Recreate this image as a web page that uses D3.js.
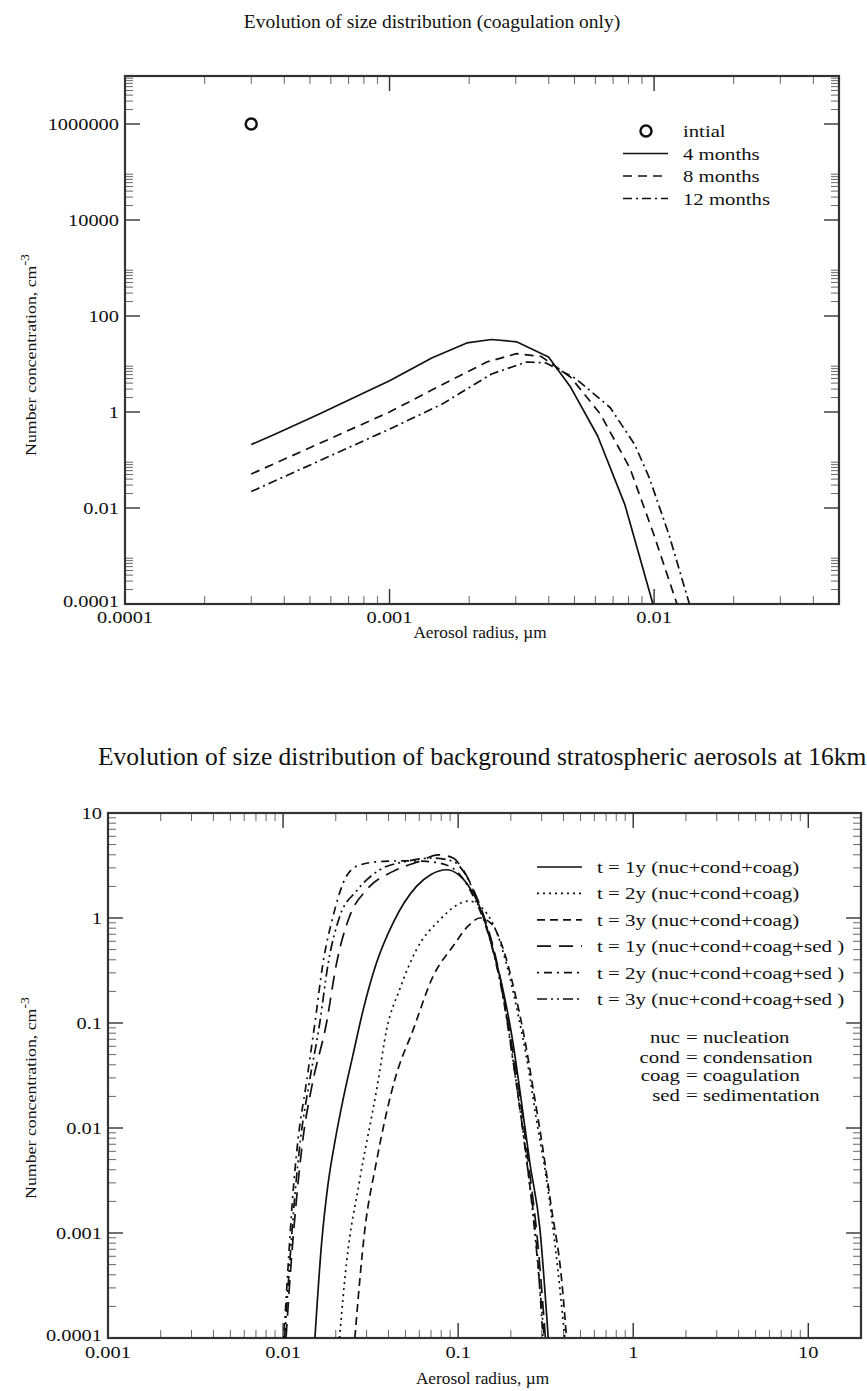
<!DOCTYPE html>
<html>
<meta charset="utf-8">
<head>
<style>
body { margin: 0; background: #fff; }
text { font-family: "Liberation Serif", "Times New Roman", serif; fill: #111; }
.frame { fill: none; stroke: #333; stroke-width: 2.2px; }
.tick-major { stroke: #333; stroke-width: 1.4px; }
.tick-minor { stroke: #666; stroke-width: 1px; }
.curve { fill: none; stroke: #111; stroke-width: 1.7px; stroke-linejoin: round; }
</style>
</head>
<body>
<div id="viz"></div>
<script src="https://d3js.org/d3.v7.min.js"></script>
<script>
// ---------- panel 1 : coagulation only ----------
const title_top = "Evolution of size distribution (coagulation only)";
const top_x_ticks = [0.0001, 0.001, 0.01];
const top_x_labels = ["0.0001", "0.001", "0.01"];
const top_y_ticks = [0.0001, 0.01, 1, 100, 10000, 1000000];
const top_y_labels = ["0.0001", "0.01", "1", "100", "10000", "1000000"];
const top_series_names = ["intial", "4 months", "8 months", "12 months"];

const initial = [[0.0003, 1000000]];
const months4 = [[0.0003, 0.21], [0.000367, 0.34], [0.00054, 0.9], [0.001, 4.5], [0.00145, 13.5],
    [0.00196, 27.5], [0.00243, 32.4], [0.00302, 29], [0.00399, 14], [0.00484, 3.27],
    [0.00612, 0.316], [0.00776, 0.0116], [0.0099, 0.0001]];
const months8 = [[0.0003, 0.051], [0.001, 1.0], [0.00158, 3.7], [0.00233, 11], [0.00302, 16.4],
    [0.00374, 14.4], [0.00484, 5.3], [0.00627, 0.9], [0.0081, 0.068], [0.01, 0.0027], [0.0122, 0.0001]];
const months12 = [[0.0003, 0.022], [0.001, 0.44], [0.00158, 1.46], [0.00243, 6.2], [0.00329, 11],
    [0.0039, 10.5], [0.00505, 5.0], [0.00682, 1.24], [0.00845, 0.21], [0.0096, 0.042],
    [0.0114, 0.0027], [0.0136, 0.0001]];

// ---------- panel 2 : background stratospheric aerosols ----------
const title_bottom = "Evolution of size distribution of background stratospheric aerosols at 16km";
const bot_x_ticks = [0.001, 0.01, 0.1, 1, 10];
const bot_x_labels = ["0.001", "0.01", "0.1", "1", "10"];
const bot_y_ticks = [0.0001, 0.001, 0.01, 0.1, 1, 10];
const bot_y_labels = ["0.0001", "0.001", "0.01", "0.1", "1", "10"];
const bot_series_names = ["t = 1y (nuc+cond+coag)", "t = 2y (nuc+cond+coag)", "t = 3y (nuc+cond+coag)",
    "t = 1y (nuc+cond+coag+sed )", "t = 2y (nuc+cond+coag+sed )", "t = 3y (nuc+cond+coag+sed )"];
const abbrev_keys = ["nuc", "cond", "coag", "sed"];
const abbrev_vals = ["nucleation", "condensation", "coagulation", "sedimentation"];

const t1y_coag = [[0.0152, 0.0001], [0.0166, 0.0008], [0.018, 0.0028], [0.0198, 0.0075], [0.0222, 0.02],
    [0.0251, 0.05], [0.0287, 0.134], [0.0341, 0.37], [0.0425, 0.9], [0.0578, 2.0], [0.07, 2.6], [0.0858, 2.88],
    [0.1, 2.6], [0.1117, 2.15], [0.139, 1.04], [0.158, 0.5], [0.18, 0.21], [0.206, 0.064],
    [0.225, 0.023], [0.257, 0.0046], [0.293, 0.0011], [0.327, 0.0001]];
const t2y_coag = [[0.021, 0.0001], [0.023, 0.00051], [0.0274, 0.0032], [0.0345, 0.025], [0.039, 0.086],
    [0.0464, 0.21], [0.0578, 0.5], [0.0785, 0.96], [0.1, 1.35], [0.115, 1.45], [0.14, 1.2],
    [0.165, 0.75], [0.19, 0.35], [0.22, 0.12], [0.25, 0.04], [0.28, 0.012], [0.32, 0.0032],
    [0.36, 0.0007], [0.407, 0.0001]];
const t3y_coag = [[0.0257, 0.0001], [0.0293, 0.00107], [0.034, 0.0046], [0.0435, 0.029], [0.0553, 0.086],
    [0.072, 0.28], [0.0936, 0.54], [0.115, 0.85], [0.133, 1.0], [0.155, 0.88], [0.18, 0.52],
    [0.21, 0.2], [0.24, 0.07], [0.27, 0.022], [0.3, 0.0075], [0.34, 0.0018], [0.39, 0.00036],
    [0.416, 0.0001]];
const t1y_sed = [[0.0104, 0.0001], [0.0111, 0.0005], [0.0119, 0.002], [0.013, 0.008], [0.0146, 0.025],
    [0.0177, 0.1], [0.0202, 0.37], [0.024, 1.04], [0.03, 1.86], [0.0425, 2.78], [0.06, 3.46],
    [0.0769, 4.0], [0.0936, 3.73], [0.105, 3.0], [0.12, 2.0], [0.14, 1.05], [0.16, 0.5],
    [0.18, 0.2], [0.2, 0.07], [0.225, 0.02], [0.255, 0.004], [0.285, 0.0008], [0.315, 0.0001]];
const t2y_sed = [[0.0101, 0.0001], [0.0107, 0.0005], [0.0113, 0.002], [0.0122, 0.008], [0.0135, 0.025],
    [0.0152, 0.1], [0.0169, 0.37], [0.0193, 1.04], [0.023, 2.5], [0.0274, 3.2], [0.0373, 3.46],
    [0.0507, 3.5], [0.066, 3.46], [0.0857, 3.2], [0.1, 2.7], [0.12, 1.7], [0.14, 0.95],
    [0.16, 0.45], [0.18, 0.18], [0.2, 0.06], [0.22, 0.02], [0.25, 0.004], [0.28, 0.0008], [0.305, 0.0001]];
const t3y_sed = [[0.0102, 0.0001], [0.0109, 0.0005], [0.0116, 0.002], [0.0126, 0.008], [0.014, 0.025],
    [0.0162, 0.1], [0.0181, 0.37], [0.0211, 1.04], [0.0262, 1.8], [0.0357, 2.88], [0.0507, 3.46],
    [0.072, 3.73], [0.0936, 3.46], [0.11, 2.6], [0.13, 1.4], [0.15, 0.7], [0.17, 0.3],
    [0.19, 0.11], [0.21, 0.035], [0.24, 0.007], [0.27, 0.0013], [0.31, 0.0001]];

const width = 867;
const height = 1391;

const svg = d3.select("#viz")
    .append("svg")
    .attr("width", width)
    .attr("height", height);

// the reference font is wide, so text gets stretched horizontally
function place(x, y, sx) {
    return "translate(" + x + "," + y + ") scale(" + sx + ",1)";
}

function stext(parent, x, y, str, size, sx, anchor) {
    return parent.append("text")
        .attr("transform", place(x, y, sx))
        .attr("text-anchor", anchor || "start")
        .style("font-size", size + "px")
        .text(str);
}

// minor ticks at 2..9 times every major tick
function minors(majors, domain) {
    let out = [];
    majors.forEach(m => {
        for (let k = 2; k <= 9; k++) {
            let v = m * k;
            if (v > domain[0] && v < domain[1]) out.push(v);
        }
    });
    return out;
}

function panel(p) {
    const x = d3.scaleLog().domain(p.xDomain).range([p.left, p.right]);
    const y = d3.scaleLog().domain(p.yDomain).range([p.bottom, p.top]);
    const g = svg.append("g");

    const clipId = "clip" + p.id;
    g.append("clipPath").attr("id", clipId)
        .append("rect")
        .attr("x", p.left).attr("y", p.top)
        .attr("width", p.right - p.left).attr("height", p.bottom - p.top);

    // x ticks, bottom and top edge, pointing inward
    const xMinor = minors(p.xTicks, p.xDomain);
    [[p.bottom, -1], [p.top, 1]].forEach(([yy, dir]) => {
        g.selectAll(null).data(p.xTicks).enter().append("line")
            .attr("class", "tick-major")
            .attr("x1", d => x(d)).attr("x2", d => x(d))
            .attr("y1", yy).attr("y2", yy + dir * 15);
        g.selectAll(null).data(xMinor).enter().append("line")
            .attr("class", "tick-minor")
            .attr("x1", d => x(d)).attr("x2", d => x(d))
            .attr("y1", yy).attr("y2", yy + dir * 8);
    });
    const yMinor = minors(p.yTicks, p.yDomain);
    [[p.left, 1], [p.right, -1]].forEach(([xx, dir]) => {
        g.selectAll(null).data(p.yTicks).enter().append("line")
            .attr("class", "tick-major")
            .attr("y1", d => y(d)).attr("y2", d => y(d))
            .attr("x1", xx).attr("x2", xx + dir * 15);
        g.selectAll(null).data(yMinor).enter().append("line")
            .attr("class", "tick-minor")
            .attr("y1", d => y(d)).attr("y2", d => y(d))
            .attr("x1", xx).attr("x2", xx + dir * 8);
    });

    g.append("rect").attr("class", "frame")
        .attr("x", p.left).attr("y", p.top)
        .attr("width", p.right - p.left).attr("height", p.bottom - p.top);

    // tick labels (lowest y label lifted a little so it clears the x label)
    g.selectAll(null).data(p.xTicks).enter().append("text")
        .attr("transform", d => place(x(d), p.bottom + p.xLabelDy, 1.2))
        .attr("text-anchor", "middle")
        .style("font-size", "17px")
        .text((d, i) => p.xLabels[i]);
    g.selectAll(null).data(p.yTicks).enter().append("text")
        .attr("transform", (d, i) => place(p.left - 6, y(d) + (i === 0 ? 3 : 6), 1.2))
        .attr("text-anchor", "end")
        .style("font-size", "17px")
        .text((d, i) => p.yLabels[i]);

    // axis titles
    stext(g, (p.left + p.right) / 2 - 2, p.bottom + p.xTitleDy, "Aerosol radius, µm", 16, 1.08, "middle");
    const yt = g.append("text")
        .attr("transform", "translate(36," + p.yTitleMid + ") rotate(-90) scale(1.15,1)")
        .attr("text-anchor", "middle")
        .style("font-size", "15.5px");
    yt.append("tspan").text("Number concentration, cm");
    yt.append("tspan").attr("dy", -7).style("font-size", "12px").text("-3");

    // title
    stext(g, p.titleX, p.titleY, p.title, p.titleSize, 1, p.titleAnchor);

    const line = d3.line()
        .x(d => x(d[0]))
        .y(d => y(d[1]))
        .curve(p.curve);

    p.series.forEach(s => {
        g.append("path")
            .datum(s.data)
            .attr("class", "curve")
            .attr("clip-path", "url(#" + clipId + ")")
            .attr("stroke-dasharray", s.dash)
            .attr("d", line);
    });

    return { x: x, y: y, g: g };
}

// ---------- top panel ----------
const topPanel = panel({
    id: "top",
    left: 125, right: 839, top: 76, bottom: 604,
    xDomain: [0.0001, 0.05], yDomain: [0.0001, 10000000],
    xTicks: top_x_ticks, xLabels: top_x_labels,
    yTicks: top_y_ticks, yLabels: top_y_labels,
    xLabelDy: 19, xTitleDy: 34,
    yTitleMid: 355,
    title: title_top, titleX: 432, titleY: 28, titleAnchor: "middle", titleSize: 19.5,
    curve: d3.curveLinear,
    series: [
        { data: months4, dash: null },
        { data: months8, dash: "9,6" },
        { data: months12, dash: "9,4,2,4" }
    ]
});

topPanel.g.selectAll(null).data(initial).enter().append("circle")
    .attr("cx", d => topPanel.x(d[0]))
    .attr("cy", d => topPanel.y(d[1]))
    .attr("r", 5.5)
    .attr("fill", "none")
    .attr("stroke", "#111")
    .attr("stroke-width", 2.5);

// legend, top
const topLegend = topPanel.g.append("g");
const topDash = [null, null, "9,6", "9,4,2,4"];
top_series_names.forEach((name, i) => {
    const yy = 131 + i * 22.5;
    if (i === 0) {
        topLegend.append("circle").attr("cx", 646).attr("cy", yy).attr("r", 5.5)
            .attr("fill", "none").attr("stroke", "#111").attr("stroke-width", 2.5);
    } else {
        topLegend.append("line").attr("class", "curve")
            .attr("x1", 623).attr("x2", 668).attr("y1", yy).attr("y2", yy)
            .attr("stroke-dasharray", topDash[i]);
    }
    stext(topLegend, 683, yy + 6, name, 17, 1.22);
});

// ---------- bottom panel ----------
const botDash = [null, "2,4", "8,5", "14,8", "2,5,8,5", "10,4,2,4,2,4"];
const botData = [t1y_coag, t2y_coag, t3y_coag, t1y_sed, t2y_sed, t3y_sed];

const botPanel = panel({
    id: "bot",
    left: 108, right: 861, top: 813, bottom: 1338,
    xDomain: [0.001, 20], yDomain: [0.0001, 10],
    xTicks: bot_x_ticks, xLabels: bot_x_labels,
    yTicks: bot_y_ticks, yLabels: bot_y_labels,
    xLabelDy: 20, xTitleDy: 46,
    yTitleMid: 1098,
    title: title_bottom, titleX: 98, titleY: 765, titleAnchor: "start", titleSize: 25.5,
    curve: d3.curveMonotoneX,
    series: botData.map((d, i) => ({ data: d, dash: botDash[i] }))
});

const botLegend = botPanel.g.append("g");
bot_series_names.forEach((name, i) => {
    const yy = 867 + i * 26.4;
    botLegend.append("line").attr("class", "curve")
        .attr("x1", 537).attr("x2", 582).attr("y1", yy).attr("y2", yy)
        .attr("stroke-dasharray", botDash[i]);
    stext(botLegend, 597, yy + 6, name, 16.5, 1.27);
});

// abbreviations, lined up on the "=" sign
abbrev_keys.forEach((k, i) => {
    const yy = [1043, 1063, 1081, 1101][i];
    stext(botLegend, 680, yy, k, 16, 1.3, "end");
    stext(botLegend, 686, yy, "= " + abbrev_vals[i], 16, 1.3);
});
</script>
</body>
</html>
